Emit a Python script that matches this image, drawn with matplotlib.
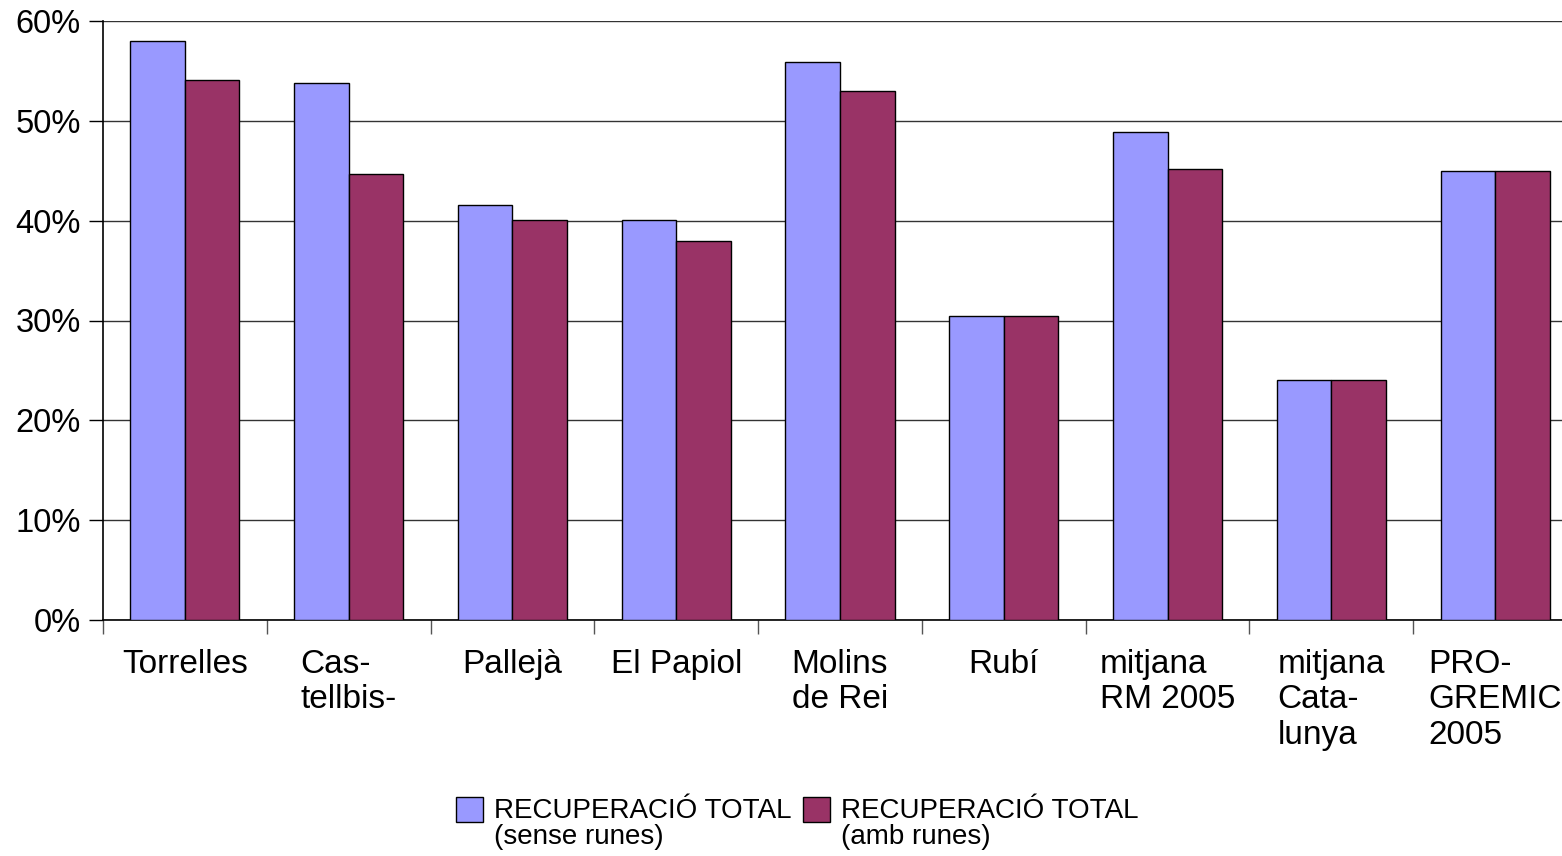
import matplotlib
matplotlib.use("Agg")
import matplotlib.pyplot as plt
import numpy as np
from matplotlib.patches import Patch, Rectangle
from matplotlib.legend_handler import HandlerPatch

plt.rcParams['font.family'] = ['Liberation Sans', 'DejaVu Sans']

categories = ["Torrelles", "Cas-\ntellbis-", "Pallejà", "El Papiol", "Molins\nde Rei",
              "Rubí", "mitjana\nRM 2005", "mitjana\nCata-\nlunya", "PRO-\nGREMIC\n2005"]
sense_runes = [58.0, 53.8, 41.6, 40.1, 55.9, 30.5, 48.9, 24.0, 45.0]
amb_runes = [54.1, 44.7, 40.1, 38.0, 53.0, 30.5, 45.2, 24.0, 45.0]
series_labels = ["RECUPERACIÓ TOTAL\n(sense runes)", "RECUPERACIÓ TOTAL\n(amb runes)"]
yticks = [0, 10, 20, 30, 40, 50, 60]
ytick_labels = ["0%", "10%", "20%", "30%", "40%", "50%", "60%"]

blue = "#9999FF"
maroon = "#993366"

W, H = 1562, 856
fig = plt.figure(figsize=(W / 100, H / 100), dpi=100)
ax = fig.add_axes([103 / W, (H - 620) / H, 1474 / W, 599 / H])

x = np.arange(len(categories))
bw = 1 / 3
ax.bar(x - bw / 2, sense_runes, bw, color=blue, edgecolor="black", linewidth=1, zorder=3)
ax.bar(x + bw / 2, amb_runes, bw, color=maroon, edgecolor="black", linewidth=1, zorder=3)

ax.set_xlim(-0.5, len(categories) - 0.5)
ax.set_ylim(0, 60)
ax.set_yticks(yticks)
ax.set_yticklabels(ytick_labels, fontsize=23.5)
ax.yaxis.grid(True, color="#333333", linewidth=1, zorder=0)
ax.set_axisbelow(True)

ax.set_xticks(np.arange(len(categories) + 1) - 0.5)
ax.set_xticklabels([])
ax.set_xticks(x, minor=True)
ax.set_xticklabels(categories, minor=True, fontsize=24, multialignment="left", linespacing=1.18)
ax.tick_params(axis="x", which="major", length=10, width=1, color="#555555", direction="out")
ax.tick_params(axis="x", which="minor", length=0, pad=21)
ax.tick_params(axis="y", length=10, width=1, direction="out", pad=6)

for s in ["top", "right"]:
    ax.spines[s].set_visible(False)
ax.spines["left"].set_linewidth(1.2)
ax.spines["bottom"].set_linewidth(1.2)


def raised_patch(legend, orig_handle, xdescent, ydescent, width, height, fontsize):
    return Rectangle((-xdescent, -ydescent + 10.5), width, height)


handles = [Patch(facecolor=blue, edgecolor="black", linewidth=1),
           Patch(facecolor=maroon, edgecolor="black", linewidth=1)]
leg = fig.legend(handles, series_labels, loc="center", bbox_to_anchor=(797 / W, 1 - 824 / H),
                 ncol=2, frameon=False, fontsize=20, handlelength=0.97, handleheight=1.0,
                 handletextpad=0.4, columnspacing=0.4, labelspacing=0.0,
                 handler_map={Patch: HandlerPatch(patch_func=raised_patch)})
for t in leg.get_texts():
    t.set_linespacing(1.0)

fig.savefig("out.png", dpi=100)
